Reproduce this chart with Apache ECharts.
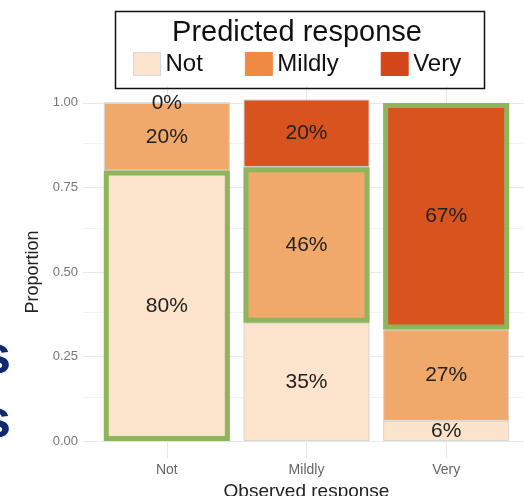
<!DOCTYPE html>
<html>
<head>
<meta charset="utf-8">
<script src="https://cdn.jsdelivr.net/npm/echarts@6/dist/echarts.min.js"></script>
<style>
html,body{margin:0;padding:0;background:#fff;}
#chart{width:524px;height:496px;}
</style>
</head>
<body>
<div id="chart"></div>
<script>
// ---- data ----
const categories = ['Not', 'Mildly', 'Very'];          // observed response
const seriesNames = ['Not', 'Mildly', 'Very'];         // predicted response
const predNot    = [0.80, 0.35, 0.06];
const predMildly = [0.20, 0.46, 0.27];
const predVery   = [0.00, 0.20, 0.67];
const yTicks = [0, 0.25, 0.5, 0.75, 1];
const gridLinesMajor = [0, 0.25, 0.5, 0.75, 1];
const gridLinesMinor = [0.125, 0.375, 0.625, 0.875];
const gridLinesX = [1, 2, 3];
// index of predicted series highlighted for each observed category
const highlightIdx = [0, 1, 2];

const barColors = ['#FCE3CB', '#F1A96B', '#D9531E'];
const legendColors = ['#FBE3CE', '#EF8A43', '#D3471A'];
const green = '#8fb55c';
const FONT = 'Liberation Sans, Arial, sans-serif';

const values = [predNot, predMildly, predVery];

const chart = echarts.init(document.getElementById('chart'), null, {renderer: 'canvas'});

const mainSeries = seriesNames.map((name, s) => ({
  name: name,
  type: 'bar',
  xAxisIndex: 1,
  yAxisIndex: 1,
  stack: 'main',
  barWidth: 126,
  barGap: '-100%',
  z: 2,
  itemStyle: {color: barColors[s], borderColor: '#d6d6d6', borderWidth: 1},
  label: {
    show: true,
    position: 'inside',
    fontFamily: FONT,
    fontSize: 21,
    color: '#222',
    formatter: p => Math.round(p.value * 100) + '%'
  },
  emphasis: {disabled: true},
  data: values[s]
}));

const hlSeries = seriesNames.map((name, s) => ({
  name: 'hl-' + name,
  type: 'bar',
  xAxisIndex: 1,
  yAxisIndex: 1,
  stack: 'hl',
  barWidth: 126,
  barGap: '-100%',
  z: 5,
  silent: true,
  itemStyle: {color: 'rgba(0,0,0,0)', borderWidth: 0},
  label: {show: false},
  emphasis: {disabled: true},
  data: values[s].map((v, i) => ({
    value: v,
    itemStyle: highlightIdx[i] === s
      ? {color: 'rgba(0,0,0,0)', borderColor: green, borderWidth: 5}
      : {color: 'rgba(0,0,0,0)', borderWidth: 0}
  }))
}));

const gridSeries = {
  name: 'grid',
  type: 'scatter',
  xAxisIndex: 0,
  yAxisIndex: 0,
  data: [],
  z: 0,
  silent: true,
  markLine: {
    silent: true,
    z: 0,
    symbol: 'none',
    label: {show: false},
    animation: false,
    data: [
      ...gridLinesMinor.map(v => ({yAxis: v, lineStyle: {color: '#f2f2f2', width: 1, type: 'solid'}})),
      ...gridLinesMajor.map(v => ({yAxis: v, lineStyle: {color: '#e8e8e8', width: 1, type: 'solid'}})),
      ...gridLinesX.map(v => ({xAxis: v, lineStyle: {color: '#e8e8e8', width: 1, type: 'solid'}}))
    ]
  }
};

const hiddenAxis = {
  axisLine: {show: false}, axisTick: {show: false}, splitLine: {show: false}, axisLabel: {show: false}
};

chart.setOption({
  animation: false,
  backgroundColor: '#ffffff',
  title: {
    text: 'Predicted response',
    left: 292,
    top: 13,
    textAlign: 'center',
    textStyle: {fontFamily: FONT, fontSize: 29, fontWeight: 'normal', color: '#111'}
  },
  legend: {
    data: seriesNames.map((n, i) => ({
      name: n,
      itemStyle: {color: legendColors[i], borderColor: i === 0 ? '#d8d8d8' : legendColors[i], borderWidth: 1}
    })),
    left: 133,
    top: 52,
    padding: 0,
    icon: 'rect',
    itemWidth: 27,
    itemHeight: 23,
    itemGap: 42,
    textStyle: {fontFamily: FONT, fontSize: 24, color: '#111'},
    selectedMode: false
  },
  graphic: [
    {type: 'rect', left: 113, top: 9, shape: {width: 369, height: 77}, style: {fill: 'none', stroke: '#111', lineWidth: 1.5}, z: 10},
    {type: 'text', x: 11, y: 332, style: {text: 's', font: 'bold 53px ' + FONT, fill: '#0d2a72', textAlign: 'right'}},
    {type: 'text', x: 11, y: 396, style: {text: 's', font: 'bold 53px ' + FONT, fill: '#0d2a72', textAlign: 'right'}}
  ],
  grid: [
    {left: 83, top: 86, width: 447, height: 372, outerBoundsMode: 'none', containLabel: false},
    {left: 97, top: 86, width: 419, height: 372, outerBoundsMode: 'none', containLabel: false}
  ],
  xAxis: [
    Object.assign({type: 'value', gridIndex: 0, min: 0.4, max: 3.6}, hiddenAxis),
    {
      type: 'category',
      gridIndex: 1,
      data: categories,
      name: 'Observed response',
      nameLocation: 'middle',
      nameGap: 21,
      nameTextStyle: {fontFamily: FONT, fontSize: 19, color: '#222'},
      axisLine: {show: false},
      axisTick: {show: false},
      splitLine: {show: false},
      axisLabel: {fontFamily: FONT, fontSize: 14, color: '#666', margin: 5}
    }
  ],
  yAxis: [
    Object.assign({type: 'value', gridIndex: 0, min: -0.05, max: 1.05}, hiddenAxis),
    {
      type: 'value',
      gridIndex: 1,
      min: -0.05,
      max: 1.05,
      name: 'Proportion',
      nameLocation: 'middle',
      nameGap: 55,
      nameTextStyle: {fontFamily: FONT, fontSize: 18, color: '#222'},
      axisLine: {show: false},
      axisTick: {show: false},
      splitLine: {show: false},
      axisLabel: {
        customValues: yTicks,
        formatter: v => v.toFixed(2),
        fontFamily: FONT, fontSize: 13, color: '#777', margin: 19
      }
    }
  ],
  series: [gridSeries, ...mainSeries, ...hlSeries]
});
</script>
</body>
</html>
